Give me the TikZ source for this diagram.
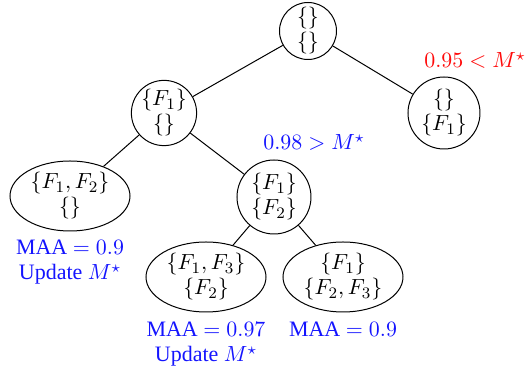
\documentclass[tikz,border=0pt]{standalone}
\usepackage{fontspec}
\setmainfont{Liberation Serif}
\usetikzlibrary{shapes.geometric}
\definecolor{lblue}{RGB}{20,20,255}
\definecolor{lred}{RGB}{255,10,10}
\tikzset{
  every node/.style={font=\fontsize{11}{12.5}\selectfont, align=center, inner sep=0pt},
  cnode/.style={draw, circle, line width=0.5pt},
  enode/.style={draw, ellipse, line width=0.5pt, minimum width=60pt, minimum height=35pt},
  blab/.style={text=lblue, anchor=base},
  rlab/.style={text=lred, anchor=base},
  edge/.style={line width=0.5pt}
}
\begin{document}
\begin{tikzpicture}[x=0.5pt,y=-0.5pt]
\useasboundingbox (0,0) rectangle (527,373);
\node[cnode, minimum size=28.5pt] (root) at (308,31) {$\{\}$\\$\{\}$};
\node[cnode, minimum size=28.5pt] (a) at (164,113) {$\{F_1\}$\\$\{\}$};
\node[cnode, minimum size=36pt] (b) at (444,113) {$\{\}$\\$\{F_1\}$};
\node[enode] (c) at (70,196) {$\{F_1,F_2\}$\\$\{\}$};
\node[cnode, minimum size=37pt] (d) at (274,197) {$\{F_1\}$\\$\{F_2\}$};
\node[enode] (e) at (206,277) {$\{F_1,F_3\}$\\$\{F_2\}$};
\node[enode] (f) at (343,277) {$\{F_1\}$\\$\{F_2,F_3\}$};
\draw[edge] (root) -- (a);
\draw[edge] (root) -- (b);
\draw[edge] (a) -- (c);
\draw[edge] (a) -- (d);
\draw[edge] (d) -- (e);
\draw[edge] (d) -- (f);
\node[rlab] (lb) at (475,68) {$0.95 < M^\star$};
\node[blab] (ld) at (314,150) {$0.98 > M^\star$};
\node[blab] (lc1) at (70,255) {MAA $= 0.9$};
\node[blab] (lc2) at (70,280) {Update $M^\star$};
\node[blab] (le1) at (206,337) {MAA $= 0.97$};
\node[blab] (le2) at (206,362) {Update $M^\star$};
\node[blab] (lf) at (343,337) {MAA $= 0.9$};
\end{tikzpicture}
\end{document}
